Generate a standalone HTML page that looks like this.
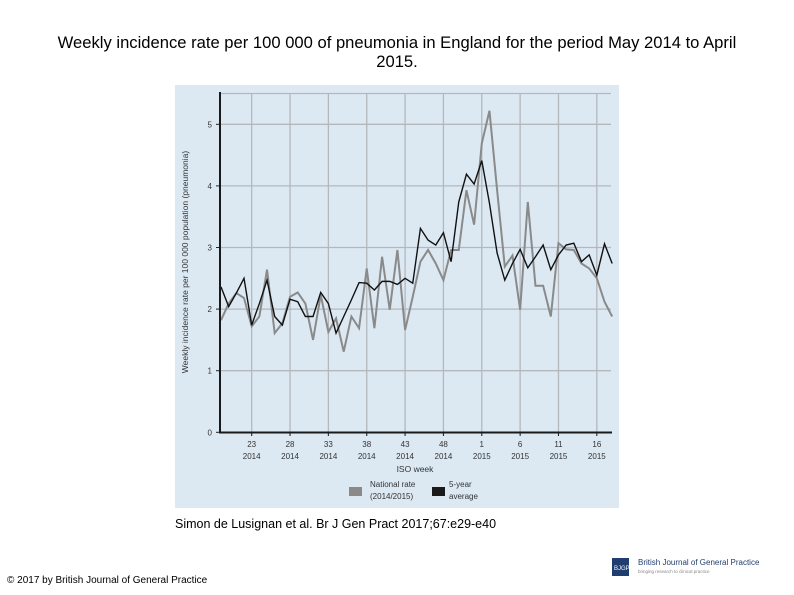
<!DOCTYPE html>
<html><head><meta charset="utf-8"><style>
body{margin:0;background:#fff;width:794px;height:595px;overflow:hidden;font-family:"Liberation Sans",Arial,sans-serif;position:relative}
.t{position:absolute;left:0;width:794px;text-align:center;font-size:16.6px;line-height:19px;top:33px;color:#000}
</style></head><body>
<div class="t">Weekly incidence rate per 100 000 of pneumonia in England for the period May 2014 to April<br>2015.</div>
<svg id="c" width="794" height="595" style="position:absolute;left:0;top:0">
<rect x="175" y="85" width="444" height="423" fill="#dce9f3"/>
<g id="grid"></g><g id="series"></g><g id="axes"></g>
<text x="188" y="262" transform="rotate(-90 188 262)" text-anchor="middle" font-size="8.5" fill="#333">Weekly incidence rate per 100 000 population (pneumonia)</text>
<text x="415" y="472" text-anchor="middle" font-size="8.5" fill="#333">ISO week</text>
<g>
<rect x="349" y="487" width="13" height="9" fill="#8a8a8a"/>
<text x="370" y="487" font-size="8" fill="#333">National rate</text>
<text x="370" y="499" font-size="8" fill="#333">(2014/2015)</text></g>
<g>
<rect x="432" y="487" width="13" height="9" fill="#1a1a1a"/>
<text x="449" y="487" font-size="8" fill="#333">5-year</text>
<text x="449" y="499" font-size="8" fill="#333">average</text></g>
<text x="175" y="528" font-size="12.5" fill="#000">Simon de Lusignan et al. Br J Gen Pract 2017;67:e29-e40</text>
<text x="7" y="583" font-size="10" fill="#000">© 2017 by British Journal of General Practice</text>
<g>
<rect x="612" y="558" width="17" height="18" fill="#1f3d6e"/>
<text x="614" y="570" font-size="6" fill="#fff">BJGP</text>
<text x="638" y="565" font-size="8" fill="#1f3d6e">British Journal of General Practice</text>
<text x="638" y="573" font-size="4.5" fill="#888">bringing research to clinical practice</text></g>
</svg>
<script>
const tickWeeks=["23","28","33","38","43","48","1","6","11","16"];
const tickYears=["2014","2014","2014","2014","2014","2014","2015","2015","2015","2015"];
const tickIdx=[4,9,14,19,24,29,34,39,44,49];
const yTicks=[0,1,2,3,4,5];
const national=[1.82,2.09,2.26,2.18,1.72,1.88,2.64,1.61,1.77,2.2,2.27,2.09,1.5,2.23,1.63,1.85,1.31,1.88,1.69,2.66,1.69,2.85,1.99,2.96,1.66,2.2,2.77,2.96,2.74,2.47,2.96,2.96,3.93,3.37,4.69,5.22,3.93,2.69,2.87,1.99,3.74,2.38,2.38,1.88,3.07,2.97,2.96,2.74,2.66,2.5,2.12,1.88];
const average=[2.36,2.04,2.26,2.5,1.74,2.09,2.47,1.88,1.74,2.16,2.12,1.88,1.88,2.27,2.09,1.61,1.88,2.15,2.43,2.42,2.31,2.45,2.45,2.4,2.5,2.42,3.31,3.12,3.04,3.24,2.77,3.74,4.19,4.03,4.41,3.72,2.91,2.47,2.74,2.97,2.67,2.85,3.04,2.64,2.88,3.04,3.07,2.77,2.88,2.55,3.06,2.74];
const NS="http://www.w3.org/2000/svg";
const X=i=>221+7.67*i, Y=v=>432.3-61.6*v;
function mk(tag,at,parent){const e=document.createElementNS(NS,tag);for(const k in at)e.setAttribute(k,at[k]);parent.appendChild(e);return e;}
const grid=document.getElementById('grid'),axes=document.getElementById('axes'),ser=document.getElementById('series');
for(const v of [1,2,3,4,5,5.5]){const l=mk('line',{x1:220,x2:611,y1:Y(v),y2:Y(v),stroke:'#b4b8bc','stroke-width':1.3},grid);

}
tickIdx.forEach((t,k)=>{const l=mk('line',{x1:X(t),x2:X(t),y1:93,y2:436,stroke:'#b4b8bc','stroke-width':1.3},grid);


const a=mk('text',{x:X(t),y:447,'text-anchor':'middle','font-size':8,fill:'#333'},axes);a.textContent=tickWeeks[k];


const b=mk('text',{x:X(t),y:459,'text-anchor':'middle','font-size':8,fill:'#333'},axes);b.textContent=tickYears[k];


mk('line',{x1:X(t),x2:X(t),y1:432,y2:436,stroke:'#222'},axes);});
yTicks.forEach(v=>{const t=mk('text',{x:212,y:Y(v)+3,'text-anchor':'end','font-size':8,fill:'#333'},axes);t.textContent=v;


mk('line',{x1:216,x2:220,y1:Y(v),y2:Y(v),stroke:'#222'},axes);});
const ya=mk('line',{x1:220,x2:220,y1:92,y2:433,stroke:'#1a1a1a','stroke-width':2},axes);


const xa=mk('line',{x1:219,x2:612,y1:432.5,y2:432.5,stroke:'#1a1a1a','stroke-width':2},axes);


const p1=mk('polyline',{points:national.map((v,i)=>X(i)+','+Y(v)).join(' '),fill:'none',stroke:'#8a8a8a','stroke-width':2},ser);


const p2=mk('polyline',{points:average.map((v,i)=>X(i)+','+Y(v)).join(' '),fill:'none',stroke:'#111','stroke-width':1.4},ser);


</script>
</body></html>
